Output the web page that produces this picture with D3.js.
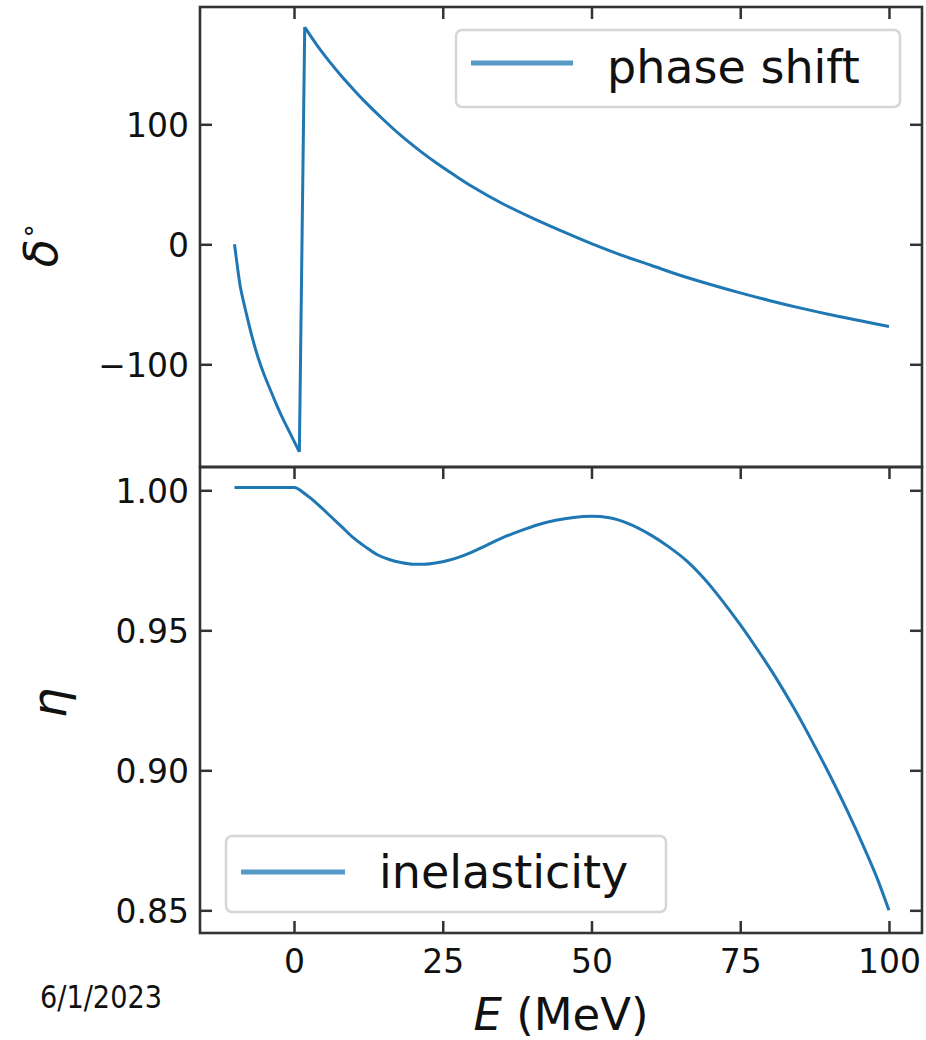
<!DOCTYPE html>
<html>
<head>
<meta charset="utf-8">
<script src="https://cdn.jsdelivr.net/npm/d3@7"></script>
<style>
  html, body { margin: 0; padding: 0; background: #ffffff; }
  svg { display: block; }
  text { font-family: "DejaVu Sans", sans-serif; fill: #111; }
</style>
</head>
<body>
<svg id="chart" width="926" height="1040"></svg>
<script>
// ---------------- data ----------------
const phaseE = [-10, -9.5, -9, -8, -7, -6, -5, -4, -3, -2, -1, 0, 0.9, 1.8, 4, 6, 8, 10, 12, 15, 18, 21, 24, 27, 30, 35, 40, 45, 50, 55, 60, 65, 70, 75, 80, 85, 90, 95, 100];
const phaseDelta = [0, -19, -36, -58, -78, -95, -109, -121, -133, -144, -154, -164, -173, 181, 165, 152, 140, 129, 118.5, 104, 90.5, 78.5, 67.5, 57.5, 48, 34, 22, 11, 0.5, -9, -17.5, -26, -33.5, -40.5, -47, -53, -58.5, -63.5, -68.5];

const etaE = [-10, -5, 0, 2, 4, 6, 8, 10, 12, 14, 16, 18, 20, 22, 24, 26, 28, 30, 32, 35, 38, 41, 44, 47, 50, 53, 56, 60, 63, 66, 69, 72, 75, 78, 81, 84, 87, 90, 93, 96, 98, 100];
const etaVal = [1.001, 1.001, 1.001, 0.9985, 0.995, 0.991, 0.987, 0.983, 0.9798, 0.977, 0.9753, 0.9742, 0.9736, 0.9736, 0.9741, 0.975, 0.9763, 0.978, 0.980, 0.983, 0.9855, 0.9877, 0.9893, 0.9903, 0.9907, 0.9902, 0.9883, 0.984, 0.9798, 0.9748, 0.9683, 0.9605, 0.952, 0.9428, 0.933, 0.9223, 0.9107, 0.8985, 0.8855, 0.8715, 0.8615, 0.85];

const xTicks = [0, 25, 50, 75, 100];
const xTickLabels = ["0", "25", "50", "75", "100"];
const deltaTicks = [-100, 0, 100];
const deltaTickLabels = ["\u2212100", "0", "100"];
const etaTicks = [0.85, 0.90, 0.95, 1.00];
const etaTickLabels = ["0.85", "0.90", "0.95", "1.00"];

const legendTop = "phase shift";
const legendBottom = "inelasticity";
const dateText = "6/1/2023";

// ---------------- layout ----------------
const L = 200, R = 922;
const T1 = 7, B1 = 467;
const T2 = 467, B2 = 933;
const spine = "#333333";
const lineColor = "#1f77b4";
const tickLen = 12;

const svg = d3.select("#chart");

const x = d3.scaleLinear().domain([-15.8, 105.55]).range([L, R]);
const yTop = d3.scaleLinear().domain([-185.6, 197.75]).range([B1, T1]);
const yBot = d3.scaleLinear().domain([0.8419, 1.00832]).range([B2, T2]);

function styleAxis(g, fontSize) {
  g.select(".domain").remove();
  g.selectAll(".tick line").attr("stroke", spine).attr("stroke-width", 2.5);
  g.selectAll(".tick text")
    .attr("font-family", "DejaVu Sans, sans-serif")
    .attr("font-size", fontSize)
    .attr("fill", "#111");
}

function panel(yScale, top, bottom, yTicks, yLabels, showXLabels, bottomTicks) {
  const gl = svg.append("g").attr("transform", `translate(${L},0)`)
    .call(d3.axisLeft(yScale).tickValues(yTicks)
      .tickFormat((d, i) => yLabels[i]).tickSizeInner(-tickLen).tickSizeOuter(0).tickPadding(11));
  styleAxis(gl, 33);
  gl.selectAll(".tick text").attr("dy", "0.38em");
  const gr = svg.append("g").attr("transform", `translate(${R},0)`)
    .call(d3.axisRight(yScale).tickValues(yTicks).tickFormat("").tickSizeInner(-tickLen).tickSizeOuter(0));
  styleAxis(gr, 33);
  const gt = svg.append("g").attr("transform", `translate(0,${top})`)
    .call(d3.axisTop(x).tickValues(xTicks).tickFormat("").tickSizeInner(-tickLen).tickSizeOuter(0));
  styleAxis(gt, 33);
  if (bottomTicks) {
    const gb = svg.append("g").attr("transform", `translate(0,${bottom})`)
      .call(d3.axisBottom(x).tickValues(xTicks)
        .tickFormat((d, i) => showXLabels ? xTickLabels[i] : "")
        .tickSizeInner(-tickLen).tickSizeOuter(0).tickPadding(17));
    styleAxis(gb, 33);
    gb.selectAll(".tick text").attr("dy", "0.71em");
  }
}

const defs = svg.append("defs");
defs.append("clipPath").attr("id", "clipTop").append("rect")
  .attr("x", L).attr("y", T1).attr("width", R - L).attr("height", B1 - T1);
defs.append("clipPath").attr("id", "clipBot").append("rect")
  .attr("x", L).attr("y", T2).attr("width", R - L).attr("height", B2 - T2);

// ---- phase shift line: smooth pieces, straight across the jump ----
const phaseData = phaseE.map((e, i) => [e, phaseDelta[i]]);
let jump = phaseData.findIndex((d, i) => i > 0 && Math.abs(d[1] - phaseData[i - 1][1]) > 180);
const seg1 = phaseData.slice(0, jump);
const seg2 = phaseData.slice(jump);
const smooth = d3.line().x(d => x(d[0])).y(d => yTop(d[1])).curve(d3.curveCatmullRom.alpha(0.5));
const straight = d3.line().x(d => x(d[0])).y(d => yTop(d[1]));
const gPhase = svg.append("g").attr("clip-path", "url(#clipTop)")
  .attr("fill", "none").attr("stroke", lineColor).attr("stroke-width", 3)
  .attr("stroke-linejoin", "round");
gPhase.append("path").attr("d", smooth(seg1));
gPhase.append("path").attr("d", straight([seg1[seg1.length - 1], seg2[0]]));
gPhase.append("path").attr("d", smooth(seg2));

// ---- inelasticity line ----
const etaData = etaE.map((e, i) => [e, etaVal[i]]);
svg.append("path").datum(etaData)
  .attr("clip-path", "url(#clipBot)")
  .attr("fill", "none").attr("stroke", lineColor).attr("stroke-width", 3)
  .attr("stroke-linejoin", "round")
  .attr("d", d3.line().x(d => x(d[0])).y(d => yBot(d[1])).curve(d3.curveMonotoneX));

panel(yTop, T1, B1, deltaTicks, deltaTickLabels, false, false);
panel(yBot, T2, B2, etaTicks, etaTickLabels, true, true);

svg.append("rect").attr("x", L).attr("y", T1).attr("width", R - L).attr("height", B1 - T1)
  .attr("fill", "none").attr("stroke", spine).attr("stroke-width", 2.6);
svg.append("rect").attr("x", L).attr("y", T2).attr("width", R - L).attr("height", B2 - T2)
  .attr("fill", "none").attr("stroke", spine).attr("stroke-width", 2.6);

function legend(bx, by, bw, bh, lx1, lx2, ly, tx, ty, label) {
  svg.append("rect").attr("x", bx).attr("y", by).attr("width", bw).attr("height", bh)
    .attr("rx", 6).attr("ry", 6)
    .attr("fill", "#ffffff").attr("fill-opacity", 0.8)
    .attr("stroke", "#d6d6d6").attr("stroke-width", 2.5);
  svg.append("line").attr("x1", lx1).attr("x2", lx2).attr("y1", ly).attr("y2", ly)
    .attr("stroke", lineColor).attr("stroke-opacity", 0.75).attr("stroke-width", 5);
  svg.append("text").attr("x", tx).attr("y", ty)
    .attr("font-size", 46).attr("fill", "#111").text(label);
}
legend(456, 30, 444, 77, 471, 573, 63, 607, 83, legendTop);
legend(226, 836, 440, 76, 241, 345, 872, 379, 888, legendBottom);

const dl = svg.append("text")
  .attr("transform", "translate(57,245) rotate(-90)")
  .attr("text-anchor", "middle")
  .attr("font-size", 46);
dl.append("tspan").attr("font-style", "italic").text("\u03b4");
dl.append("tspan").attr("font-size", 26).attr("dy", -20).text("\u2218");

svg.append("text")
  .attr("transform", "translate(66,703) rotate(-90)")
  .attr("text-anchor", "middle")
  .attr("font-size", 48).attr("font-style", "italic")
  .text("\u03b7");

const xl = svg.append("text")
  .attr("x", 561).attr("y", 1030)
  .attr("text-anchor", "middle")
  .attr("font-size", 45);
xl.append("tspan").attr("font-style", "italic").text("E");
xl.append("tspan").text(" (MeV)");

svg.append("text")
  .attr("x", 40).attr("y", 1008)
  .attr("font-family", "Lato, 'Open Sans', sans-serif")
  .attr("font-size", 32)
  .attr("textLength", 122).attr("lengthAdjust", "spacingAndGlyphs")
  .attr("fill", "#8a8a8a")
  .text(dateText);
</script>
</body>
</html>
